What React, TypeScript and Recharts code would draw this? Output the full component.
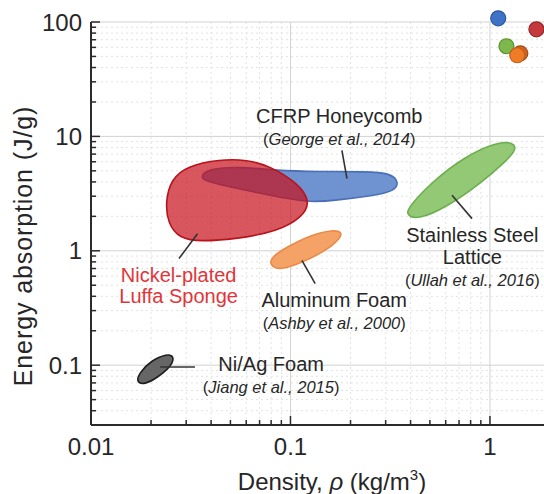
import { CartesianGrid, ReferenceDot, Scatter, ScatterChart, XAxis, YAxis } from "recharts";

type Pt = { x: number; y: number };

const FONT = "'Liberation Sans', Arial, sans-serif";
const INK = "#262626";
const AXIS_INK = "#2b2b2b";
const TICK_GAP = 12;

// axis ticks (log decades plus the in-between marks)
const xMajor = [0.01, 0.1, 1];
const xMinor = [0.02, 0.03, 0.04, 0.05, 0.06, 0.07, 0.08, 0.09, 0.2, 0.3, 0.4, 0.5, 0.6, 0.7, 0.8, 0.9];
const yMajor = [0.1, 1, 10, 100];
const yMinor = [
  0.03, 0.04, 0.05, 0.06, 0.07, 0.08, 0.09, 0.2, 0.3, 0.4, 0.5, 0.6, 0.7, 0.8, 0.9,
  2, 3, 4, 5, 6, 7, 8, 9, 20, 30, 40, 50, 60, 70, 80, 90,
];

// material envelopes: density vs energy absorption, walked clockwise
const cfrpHoneycomb: Pt[] = [
  { x: 0.0352, y: 4.3 }, { x: 0.0378, y: 5.2 }, { x: 0.0559, y: 5.45 }, { x: 0.0855, y: 5.02 },
  { x: 0.1357, y: 4.92 }, { x: 0.2416, y: 4.92 }, { x: 0.3165, y: 4.78 }, { x: 0.352, y: 3.97 },
  { x: 0.3287, y: 3.3 }, { x: 0.2609, y: 3.04 }, { x: 0.1643, y: 2.74 }, { x: 0.1209, y: 2.64 },
  { x: 0.0732, y: 3.14 }, { x: 0.0498, y: 3.6 }, { x: 0.0383, y: 4.05 },
];
const luffaSponge: Pt[] = [
  { x: 0.0444, y: 6.3 }, { x: 0.0604, y: 6.25 }, { x: 0.0791, y: 5.5 }, { x: 0.109, y: 3.9 },
  { x: 0.1265, y: 2.67 }, { x: 0.114, y: 1.95 }, { x: 0.0855, y: 1.48 }, { x: 0.0559, y: 1.28 },
  { x: 0.0352, y: 1.2 }, { x: 0.0278, y: 1.28 }, { x: 0.0243, y: 1.73 }, { x: 0.0236, y: 2.67 },
  { x: 0.0252, y: 4.2 }, { x: 0.0302, y: 5.5 },
];
const aluminumFoam: Pt[] = [
  { x: 0.0782, y: 0.747 }, { x: 0.0809, y: 0.895 }, { x: 0.0963, y: 1.08 }, { x: 0.1256, y: 1.37 },
  { x: 0.1638, y: 1.53 }, { x: 0.1817, y: 1.45 }, { x: 0.1776, y: 1.29 }, { x: 0.1523, y: 1.01 },
  { x: 0.1119, y: 0.777 }, { x: 0.0888, y: 0.675 },
];
const steelLattice: Pt[] = [
  { x: 0.376, y: 2.09 }, { x: 0.399, y: 2.5 }, { x: 0.502, y: 3.87 }, { x: 0.738, y: 6.6 },
  { x: 1.086, y: 8.93 }, { x: 1.31, y: 8.88 }, { x: 1.357, y: 7.71 }, { x: 1.218, y: 6.18 },
  { x: 0.895, y: 3.87 }, { x: 0.609, y: 2.42 }, { x: 0.431, y: 1.85 },
];
const niAgFoam: Pt[] = [
  { x: 0.0169, y: 0.0709 }, { x: 0.0174, y: 0.0849 }, { x: 0.02, y: 0.11 }, { x: 0.0241, y: 0.126 },
  { x: 0.0261, y: 0.12 }, { x: 0.0255, y: 0.0998 }, { x: 0.0217, y: 0.0784 }, { x: 0.0185, y: 0.0674 },
];

// bulk solids, top right
const bulkSolids = [
  { id: "cfrp", x: 1.1, y: 107.7 },
  { id: "steel", x: 1.21, y: 61.4 },
  { id: "aluminum2", x: 1.42, y: 53.2 },
  { id: "aluminum", x: 1.37, y: 51.2 },
  { id: "nickel", x: 1.71, y: 86.3 },
];

// label leaders
const leaders: Pt[][] = [
  [{ x: 0.1811, y: 7.56 }, { x: 0.1919, y: 4.28 }],
  [{ x: 0.0342, y: 1.41 }, { x: 0.0276, y: 0.855 }],
  [{ x: 0.1141, y: 0.826 }, { x: 0.133, y: 0.517 }],
  [{ x: 0.6455, y: 3.06 }, { x: 0.8132, y: 1.91 }],
  [{ x: 0.0222, y: 0.0965 }, { x: 0.0332, y: 0.0965 }],
];

const notes = [
  { id: "cfrp", x: 0.1756, y: 13.0, title: ["CFRP Honeycomb"], cite: "George et al., 2014" },
  { id: "steel", x: 0.816, y: 1.19, title: ["Stainless Steel", "Lattice"], cite: "Ullah et al., 2016" },
  { id: "aluminum", x: 0.1657, y: 0.323, title: ["Aluminum Foam"], cite: "Ashby et al., 2000" },
  { id: "luffa", x: 0.0275, y: 0.534, title: ["Nickel-plated", "Luffa Sponge"], cite: "" },
  { id: "niag", x: 0.08, y: 0.089, title: ["Ni/Ag Foam"], cite: "Jiang et al., 2015" },
];

const dotStyle: Record<string, { fill: string; stroke: string }> = {
  cfrp: { fill: "#3f73c8", stroke: "#2c569c" },
  steel: { fill: "#7cb84b", stroke: "#5a8f34" },
  aluminum2: { fill: "#cf6420", stroke: "#a24a12" },
  aluminum: { fill: "#ef7b27", stroke: "#c65e17" },
  nickel: { fill: "#c43a3c", stroke: "#952527" },
};

const noteInk: Record<string, string> = { luffa: "#e2353a" };

function Hidden() {
  return <g />;
}

function XTick(props: any) {
  const { x, y, payload } = props;
  const v = payload.value as number;
  const major = xMajor.includes(v);
  const axisY = y - TICK_GAP;
  return (
    <g>
      <line x1={x} x2={x} y1={axisY} y2={axisY - (major ? 9 : 5)} stroke={AXIS_INK} strokeWidth={1.5} />
      {major && (
        <text x={x} y={axisY + 30} textAnchor="middle" fontSize={24} fontFamily={FONT} fill={INK}>
          {String(v)}
        </text>
      )}
    </g>
  );
}

function YTick(props: any) {
  const { x, y, payload } = props;
  const v = payload.value as number;
  const major = yMajor.includes(v);
  const axisX = x + TICK_GAP;
  return (
    <g>
      <line x1={axisX} x2={axisX + (major ? 9 : 5)} y1={y} y2={y} stroke={AXIS_INK} strokeWidth={1.5} />
      {major && (
        <text x={axisX - 9} y={y + 8.5} textAnchor="end" fontSize={24} fontFamily={FONT} fill={INK}>
          {String(v)}
        </text>
      )}
    </g>
  );
}

function NoteShape(props: any) {
  const { cx, cy, payload } = props;
  const ink = noteInk[payload.id] ?? INK;
  const lines: string[] = payload.title;
  const citeY = cy + (lines.length - 1) * 21.5 + 22;
  return (
    <text textAnchor="middle" fontFamily={FONT} fill={ink}>
      {lines.map((t, i) => (
        <tspan key={t} x={cx} y={cy + i * 21.5} fontSize={20}>
          {t}
        </tspan>
      ))}
      {payload.cite && (
        <tspan x={cx} y={citeY} fontSize={16.5}>
          (<tspan fontStyle="italic">{payload.cite}</tspan>)
        </tspan>
      )}
    </text>
  );
}

export default function App() {
  const region = (data: Pt[], fill: string, stroke: string, opacity: number, key: string) => (
    <Scatter
      key={key}
      data={data}
      shape={Hidden}
      line={{ fill, fillOpacity: opacity, stroke, strokeWidth: 1.6 }}
      lineJointType="basisClosed"
      legendType="none"
      isAnimationActive={false}
    />
  );

  return (
    <div style={{ position: "absolute", left: 0, top: 0, width: 544, height: 494, overflow: "hidden", background: "#fff" }}>
      <ScatterChart width={550} height={494} margin={{ top: 22, right: 0, bottom: 0, left: 0 }}>
        <CartesianGrid horizontalValues={yMinor} verticalValues={xMinor} stroke="#e2e2e2" strokeDasharray="2 3" />
        <CartesianGrid horizontalValues={yMajor} verticalValues={xMajor} stroke="#d2d2d2" />
        <XAxis
          dataKey="x"
          type="number"
          scale="log"
          domain={[0.01, 2]}
          allowDataOverflow
          ticks={[...xMajor, ...xMinor]}
          interval={0}
          tick={<XTick />}
          tickLine={false}
          tickSize={0}
          tickMargin={TICK_GAP}
          axisLine={{ stroke: AXIS_INK, strokeWidth: 2 }}
          height={69}
        />
        <YAxis
          dataKey="y"
          type="number"
          scale="log"
          domain={[0.03, 100]}
          allowDataOverflow
          ticks={[...yMajor, ...yMinor]}
          interval={0}
          tick={<YTick />}
          tickLine={false}
          tickSize={0}
          tickMargin={TICK_GAP}
          axisLine={{ stroke: AXIS_INK, strokeWidth: 2 }}
          width={91}
        />
        {region(cfrpHoneycomb, "#6f93d0", "#4a6fb8", 1, "cfrp")}
        {region(luffaSponge, "#c80f1a", "#b8121c", 0.7, "luffa")}
        {region(aluminumFoam, "#f4a266", "#ea8a48", 1, "aluminum")}
        {region(steelLattice, "#93c975", "#6cae4e", 1, "steel")}
        {region(niAgFoam, "#666666", "#1e1e1e", 1, "niag")}
        {leaders.map((seg, i) => (
          <Scatter
            key={`leader-${i}`}
            data={seg}
            shape={Hidden}
            line={{ stroke: "#333", strokeWidth: 1.6 }}
            legendType="none"
            isAnimationActive={false}
          />
        ))}
        <Scatter data={notes} shape={NoteShape} legendType="none" isAnimationActive={false} />
        {bulkSolids.map((d) => (
          <ReferenceDot
            key={d.id}
            x={d.x}
            y={d.y}
            r={7.5}
            fill={dotStyle[d.id].fill}
            stroke={dotStyle[d.id].stroke}
            strokeWidth={1.2}
            ifOverflow="visible"
          />
        ))}
      </ScatterChart>
      <svg width={544} height={494} style={{ position: "absolute", left: 0, top: 0, pointerEvents: "none" }}>
        <text x={332} y={490} textAnchor="middle" fontSize={24} fontFamily={FONT} fill={INK}>
          Density, <tspan fontStyle="italic">ρ</tspan> (kg/m<tspan fontSize={15} dy={-10}>3</tspan>
          <tspan dy={10}>)</tspan>
        </text>
        <text
          transform="translate(32,246) rotate(-90)"
          textAnchor="middle"
          fontSize={25}
          letterSpacing={0.9}
          fontFamily={FONT}
          fill={INK}
        >
          Energy absorption (J/g)
        </text>
      </svg>
    </div>
  );
}
